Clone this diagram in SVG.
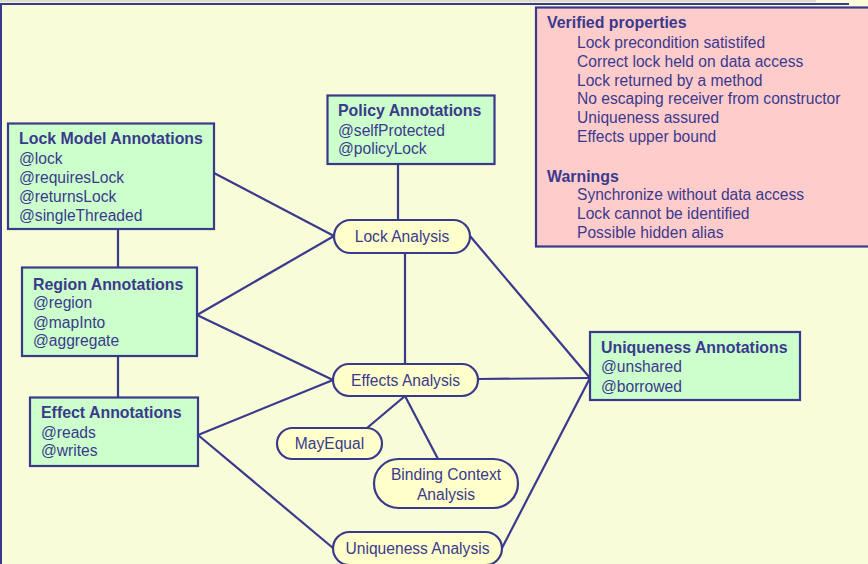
<svg xmlns="http://www.w3.org/2000/svg" width="868" height="564" viewBox="0 0 868 564">
<style>
text{font-family:"Liberation Sans",Arial,sans-serif;fill:#3a3a8c;font-size:15.6px}
.t{font-weight:bold;font-size:15.9px}
.box{fill:#ccffcc;stroke:#3a3a8c;stroke-width:2.2}
.oval{fill:#ffffcc;stroke:#3a3a8c;stroke-width:2.2}
.c line{stroke:#3a3a8c;stroke-width:2.2}
.m{text-anchor:middle}
</style>
<rect x="0" y="0" width="868" height="564" fill="#f9fcd9"/>
<rect x="0" y="0" width="816" height="2.2" fill="#dcdcd0"/>
<rect x="0" y="3" width="849" height="2" fill="#3a3a8c"/>
<rect x="0" y="3" width="2" height="561" fill="#3a3a8c"/>

<g class="c" id="connectors">
<line x1="118" y1="229" x2="118" y2="267"/>
<line x1="118" y1="356" x2="118" y2="397"/>
<line x1="398" y1="164" x2="398" y2="220"/>
<line x1="214" y1="173" x2="334" y2="236"/>
<line x1="197" y1="315" x2="334" y2="236"/>
<line x1="197" y1="315" x2="333" y2="380"/>
<line x1="198" y1="435" x2="333" y2="380"/>
<line x1="198" y1="435" x2="333" y2="548"/>
<line x1="405" y1="253" x2="405" y2="364"/>
<line x1="405" y1="396" x2="367" y2="428"/>
<line x1="405" y1="396" x2="438" y2="459"/>
<line x1="470" y1="236" x2="590" y2="378"/>
<line x1="478" y1="379" x2="590" y2="378"/>
<line x1="502" y1="548" x2="590" y2="378"/>
</g>

<g id="verified">
<rect x="536" y="7.5" width="340" height="239" fill="#ffcccc" stroke="#3a3a8c" stroke-width="2.2"/>
<text x="547" y="28" class="t">Verified properties</text>
<text x="577" y="48">Lock precondition satistifed</text>
<text x="577" y="66.5">Correct lock held on data access</text>
<text x="577" y="86">Lock returned by a method</text>
<text x="577" y="104">No escaping receiver from constructor</text>
<text x="577" y="123">Uniqueness assured</text>
<text x="577" y="141.5">Effects upper bound</text>
<text x="547" y="182" class="t">Warnings</text>
<text x="577" y="199.5">Synchronize without data access</text>
<text x="577" y="218.5">Lock cannot be identified</text>
<text x="577" y="237.5">Possible hidden alias</text>
</g>

<g id="lockModel">
<rect class="box" x="8" y="123.5" width="206" height="105.5"/>
<text x="19" y="144" class="t">Lock Model Annotations</text>
<text x="19" y="163.5">@lock</text>
<text x="19" y="183">@requiresLock</text>
<text x="19" y="202">@returnsLock</text>
<text x="19" y="221">@singleThreaded</text>
</g>

<g id="policy">
<rect class="box" x="327.5" y="95.5" width="167" height="68.5"/>
<text x="338" y="116" class="t">Policy Annotations</text>
<text x="338" y="136">@selfProtected</text>
<text x="338" y="154">@policyLock</text>
</g>

<g id="region">
<rect class="box" x="22" y="267.5" width="175" height="88.5"/>
<text x="33" y="290" class="t">Region Annotations</text>
<text x="33" y="308">@region</text>
<text x="33" y="327.5">@mapInto</text>
<text x="33" y="346">@aggregate</text>
</g>

<g id="effect">
<rect class="box" x="30" y="397.5" width="168" height="68.5"/>
<text x="41" y="418" class="t">Effect Annotations</text>
<text x="41" y="438">@reads</text>
<text x="41" y="456">@writes</text>
</g>

<g id="uniquenessAnn">
<rect class="box" x="590" y="332" width="210" height="68"/>
<text x="601" y="352.5" class="t">Uniqueness Annotations</text>
<text x="601" y="372">@unshared</text>
<text x="601" y="391.5">@borrowed</text>
</g>

<g id="lockAnalysis">
<rect class="oval" x="334" y="220" width="136" height="33" rx="16.5"/>
<text x="402" y="242" class="m">Lock Analysis</text>
</g>

<g id="effectsAnalysis">
<rect class="oval" x="333" y="364" width="145" height="32" rx="16"/>
<text x="405.5" y="385.5" class="m">Effects Analysis</text>
</g>

<g id="mayEqual">
<rect class="oval" x="277" y="428" width="105" height="31" rx="15.5"/>
<text x="329.5" y="449" class="m">MayEqual</text>
</g>

<g id="bindingContext">
<rect class="oval" x="374" y="459" width="144" height="49" rx="24.5"/>
<text x="446" y="480" class="m">Binding Context</text>
<text x="446" y="499.5" class="m">Analysis</text>
</g>

<g id="uniquenessAnalysis">
<rect class="oval" x="333" y="532" width="169" height="33" rx="16.5"/>
<text x="417.5" y="554" class="m">Uniqueness Analysis</text>
</g>
</svg>
